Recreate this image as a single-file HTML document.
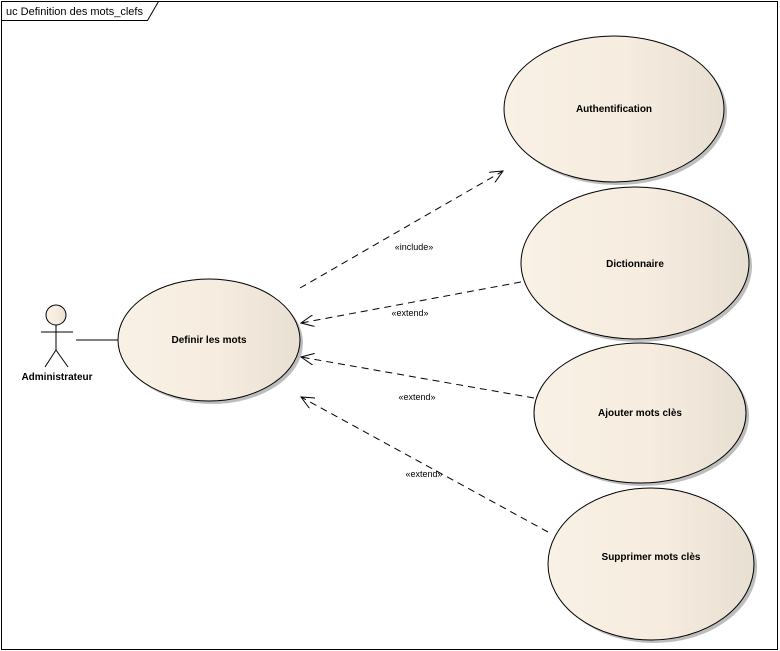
<!DOCTYPE html>
<html><head><meta charset="utf-8"><style>html,body{margin:0;padding:0;background:#fff}svg{display:block}</style></head>
<body>
<svg width="780" height="651" viewBox="0 0 780 651" xmlns="http://www.w3.org/2000/svg" font-family="Liberation Sans, Arial, sans-serif">
<defs>
<linearGradient id="g" x1="0" y1="0" x2="1" y2="0">
<stop offset="0" stop-color="#f9f1e6"/><stop offset="0.55" stop-color="#f6ecdf"/><stop offset="1" stop-color="#e8dfd3"/>
</linearGradient>
<marker id="a" markerWidth="14" markerHeight="12" refX="13" refY="6" orient="auto" markerUnits="userSpaceOnUse">
<path d="M0,0 L13,6 L0,12" fill="none" stroke="#000" stroke-width="1"/>
</marker>
</defs>
<rect x="1.5" y="1.5" width="776" height="648" fill="#fff" stroke="#000" stroke-width="1"/>
<path d="M1.5,20.5 H147.5 L158.5,1.5" fill="none" stroke="#000"/>
<text x="6" y="15" font-size="11">uc Definition des mots_clefs</text>

<g stroke="#000" stroke-width="1">
<ellipse cx="617" cy="112" rx="110" ry="73" fill="#bdbdbd" stroke="none"/>
<ellipse cx="614" cy="109" rx="110" ry="73" fill="url(#g)"/>
<ellipse cx="638" cy="266" rx="114" ry="76" fill="#bdbdbd" stroke="none"/>
<ellipse cx="635" cy="263" rx="114" ry="76" fill="url(#g)"/>
<ellipse cx="643" cy="416" rx="106" ry="70" fill="#bdbdbd" stroke="none"/>
<ellipse cx="640" cy="413" rx="106" ry="70" fill="url(#g)"/>
<ellipse cx="654" cy="567" rx="103" ry="76" fill="#bdbdbd" stroke="none"/>
<ellipse cx="651" cy="564" rx="103" ry="76" fill="url(#g)"/>
<ellipse cx="212" cy="343" rx="91" ry="61" fill="#bdbdbd" stroke="none"/>
<ellipse cx="209" cy="340" rx="91" ry="61" fill="url(#g)"/>

<line x1="76" y1="340" x2="118" y2="340"/>
<circle cx="56" cy="315" r="10" fill="url(#g)"/>
<line x1="56" y1="325" x2="56" y2="350"/>
<line x1="41" y1="332" x2="73" y2="332"/>
<line x1="56" y1="350" x2="45" y2="367"/>
<line x1="56" y1="350" x2="68" y2="367"/>

<g stroke-dasharray="7,5" fill="none">
<line x1="300" y1="288" x2="503" y2="171" marker-end="url(#a)"/>
<line x1="521" y1="282" x2="301" y2="323" marker-end="url(#a)"/>
<line x1="534" y1="398" x2="301" y2="357" marker-end="url(#a)"/>
<line x1="548" y1="532" x2="301" y2="397" marker-end="url(#a)"/>
</g>
</g>

<g font-size="10" font-weight="bold" text-anchor="middle">
<text x="614" y="112">Authentification</text>
<text x="635" y="267">Dictionnaire</text>
<text x="640" y="416">Ajouter mots clès</text>
<text x="651" y="560">Supprimer mots clès</text>
<text x="209" y="343">Definir les mots</text>
<text x="57" y="380">Administrateur</text>
</g>
<g font-size="9" text-anchor="middle">
<text x="414" y="250">«include»</text>
<text x="410" y="316">«extend»</text>
<text x="417" y="400">«extend»</text>
<text x="424" y="477">«extend»</text>
</g>
</svg>
</body></html>
